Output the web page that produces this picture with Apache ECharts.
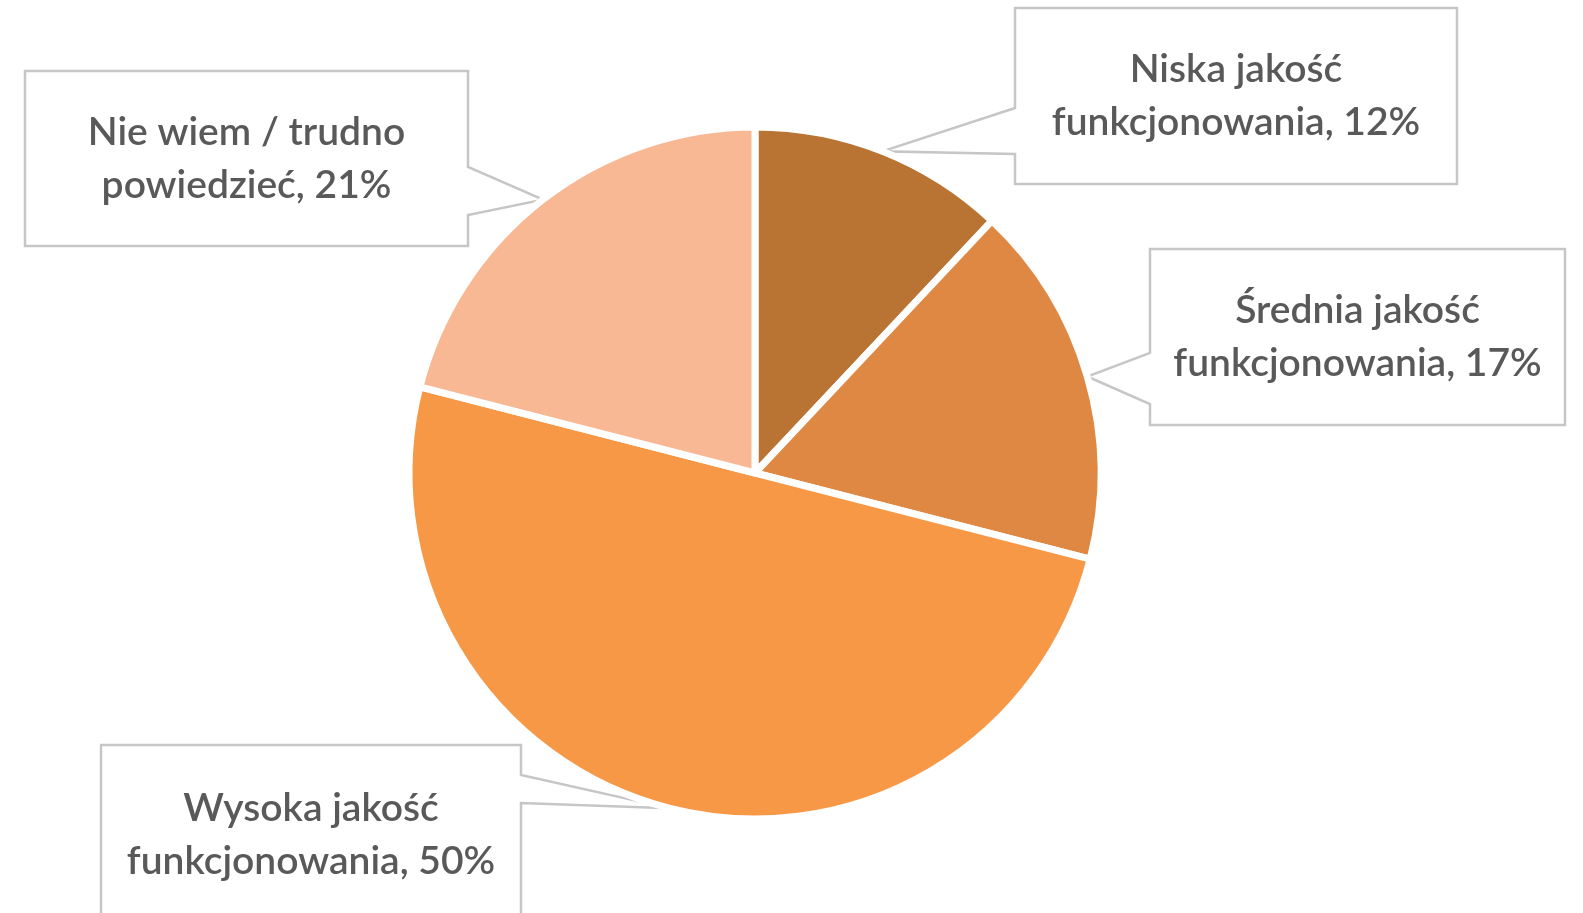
<!DOCTYPE html>
<html>
<head>
<meta charset="utf-8">
<script src="https://cdn.jsdelivr.net/npm/echarts@6/dist/echarts.min.js"></script>
<style>
  html, body { margin: 0; padding: 0; background: #ffffff; }
  #chart { width: 1583px; height: 913px; }
</style>
</head>
<body>
<div id="chart"></div>
<script>
// Survey answers, clockwise from 12 o'clock
const categories = [
  'Niska jakość funkcjonowania',
  'Średnia jakość funkcjonowania',
  'Wysoka jakość funkcjonowania',
  'Nie wiem / trudno powiedzieć'
];
const shares = [12, 17, 50, 21];
const sliceColors = ['#B97434', '#DE8843', '#F79846', '#F8B894'];

// Callout boxes: [left, top, right, bottom], the side facing the pie, and the
// vertical span where the pointer leaves the box.
const calloutBoxes = [
  { rect: [1015, 8, 1457, 184],  side: 'left',  tail: [108, 154] },
  { rect: [1150, 249, 1565, 425], side: 'left',  tail: [353, 404] },
  { rect: [101, 745, 521, 924],   side: 'right', tail: [775, 803] },
  { rect: [25, 71, 468, 246],     side: 'right', tail: [167, 215] }
];

const chart = echarts.init(document.getElementById('chart'), null, { renderer: 'canvas' });

function labelText(p) {
  const name = p.name.replace(/ (funkcjonowania|powiedzieć)$/, '\n$1');
  return name + ', ' + p.value + '%';
}

chart.setOption({
  animation: false,
  backgroundColor: '#ffffff',
  series: [{
    type: 'pie',
    z: 2,
    center: [755, 473],
    radius: 346,
    startAngle: 90,
    clockwise: true,
    avoidLabelOverlap: false,
    data: categories.map((c, i) => ({
      name: c,
      value: shares[i],
      itemStyle: { color: sliceColors[i] }
    })),
    itemStyle: { borderColor: '#ffffff', borderWidth: 7 },
    label: {
      show: true,
      position: 'outside',
      formatter: labelText,
      color: '#595959',
      fontFamily: 'Lato',
      fontWeight: 600,
      fontSize: 39,
      lineHeight: 53,
      align: 'center'
    },
    labelLine: { show: false },
    labelLayout: function (params) {
      const r = calloutBoxes[params.dataIndex].rect;
      return {
        x: (r[0] + r[2]) / 2,
        y: (r[1] + r[3]) / 2,
        align: 'center',
        verticalAlign: 'middle'
      };
    },
    emphasis: { disabled: true }
  }]
});

// Draw the callout frames, each pointing at the middle of its slice's arc
const pieData = chart.getModel().getSeriesByIndex(0).getData();
const frames = calloutBoxes.map((box, i) => {
  const lay = pieData.getItemLayout(i);
  const mid = (lay.startAngle + lay.endAngle) / 2;
  const tip = [lay.cx + lay.r * Math.cos(mid), lay.cy + lay.r * Math.sin(mid)];
  const [l, t, r, b] = box.rect;
  const [y1, y2] = box.tail;
  const pts = box.side === 'left'
    ? [[l, t], [r, t], [r, b], [l, b], [l, y2], tip, [l, y1]]
    : [[l, t], [r, t], [r, y1], tip, [r, y2], [r, b], [l, b]];
  return {
    type: 'polygon',
    z: 1,
    silent: true,
    shape: { points: pts },
    style: { fill: '#ffffff', stroke: '#C6C6C6', lineWidth: 2.5 }
  };
});
chart.setOption({ graphic: frames });
</script>
</body>
</html>
